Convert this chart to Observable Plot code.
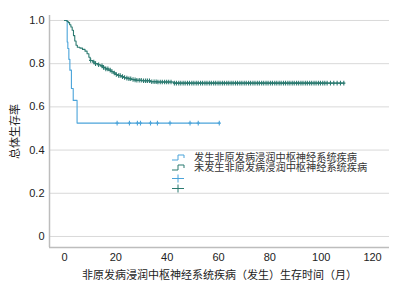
<!DOCTYPE html>
<html><head><meta charset="utf-8">
<script src="https://cdn.jsdelivr.net/npm/d3@7"></script>
<script src="https://cdn.jsdelivr.net/npm/@observablehq/plot@0.6"></script>
<style>
body{margin:0;background:#fff;}
#wrap{position:relative;width:412px;height:293px;font-family:"Liberation Sans","Noto Sans CJK SC",sans-serif;}
#legend{position:absolute;left:171px;top:152px;font-size:10.2px;line-height:10.3px;color:#333;font-family:"Noto Sans CJK SC",sans-serif;}
#legend .row{height:10.3px;display:flex;align-items:center;white-space:nowrap;}
#legend svg{flex:none;margin-right:8px;}
#legend span{line-height:10.3px;display:block;height:10.3px;}
</style></head><body><div id="wrap"><div id="chart"></div><div id="legend"></div></div>
<script>
const seriesNames = ["发生非原发病浸润中枢神经系统疾病", "未发生非原发病浸润中枢神经系统疾病"];
const seriesColors = ["#4ba4da", "#2b7a70"];
const xTicks = [0, 20, 40, 60, 80, 100, 120];
const yTicks = [0, 0.2, 0.4, 0.6, 0.8, 1.0];
const xLabel = "非原发病浸润中枢神经系统疾病（发生）生存时间（月）";
const yLabel = "总体生存率";

// Series 1 (blue): step function
const blueTimes = [0, 1.05, 1.3, 1.7, 2.1, 2.7, 3.4, 4.9, 60.3];
const blueSurv  = [1.0, 0.90, 0.87, 0.82, 0.77, 0.685, 0.63, 0.525, 0.525];
const blueCensor = [20.5, 25.3, 28.4, 29.6, 33.5, 36.2, 41.1, 48.9, 52.1, 60.3];

// Series 2 (green): step function
const greenTimes = [0, 1.0, 1.5, 2, 2.5, 3, 3.5, 4, 4.5, 5, 6, 7, 8, 8.8, 9.5, 10, 11, 12, 13, 14, 15, 16, 17, 18, 19, 20, 21, 22, 23, 24, 25, 26, 27, 28, 30, 33.5, 36, 42.5, 108.8];
const greenSurv  = [1.0, 0.995, 0.99, 0.98, 0.97, 0.955, 0.93, 0.905, 0.885, 0.876, 0.872, 0.866, 0.858, 0.846, 0.83, 0.815, 0.808, 0.80, 0.795, 0.79, 0.783, 0.776, 0.77, 0.764, 0.757, 0.75, 0.745, 0.74, 0.736, 0.733, 0.73, 0.727, 0.725, 0.723, 0.721, 0.716, 0.715, 0.71, 0.71];
const greenCensor = [10.2, 11.4, 12.1, 13.3, 14.6, 15.2, 16.1, 16.9, 17.8, 18.5, 19.4, 20.2, 21.1, 21.7, 22.6, 23.4, 24.3, 25.1, 25.8, 26.7, 27.5, 28.2, 29.1, 29.9, 30.8, 31.6, 32.3, 33.1, 34.0, 34.9, 35.7, 36.4, 37.3, 38.1, 39.0, 39.8, 40.6, 41.5, 42.8, 43.6, 44.5, 45.3, 46.2, 47.0, 47.9, 48.7, 49.6, 50.4, 51.3, 52.1, 53.0, 53.8, 54.7, 55.5, 56.4, 57.2, 58.1, 58.9, 59.8, 60.6, 61.5, 62.3, 63.2, 64.0, 64.9, 65.7, 66.6, 67.4, 68.3, 69.1, 70.0, 70.8, 71.7, 72.5, 73.4, 74.2, 75.1, 75.9, 76.8, 77.6, 78.5, 79.3, 80.2, 81.0, 81.9, 82.7, 83.6, 84.4, 85.3, 86.1, 87.0, 87.8, 88.7, 89.5, 90.4, 91.2, 92.1, 92.9, 93.8, 94.6, 95.5, 96.3, 97.2, 98.0, 98.9, 99.7, 100.6, 101.4, 102.3, 103.6, 104.9, 106.2, 107.5, 108.8];

const xDomain = [-5.84, 126.6];
const yDomain = [-0.051, 1.023];

function curve(times, surv, name) { return times.map((t, i) => ({t, s: surv[i], name})); }
function censorPts(times, surv, cens, name) {
  const bis = d3.bisector(d => d).right;
  return cens.map(c => ({t: c, s: surv[Math.max(0, bis(times, c) - 1)], name}));
}
const lines = [...curve(blueTimes, blueSurv, seriesNames[0]), ...curve(greenTimes, greenSurv, seriesNames[1])];
const cens = [...censorPts(blueTimes, blueSurv, blueCensor, seriesNames[0]), ...censorPts(greenTimes, greenSurv, greenCensor, seriesNames[1])];

const vtick = {draw(ctx, size) { const r = 2.3; ctx.moveTo(0, -r); ctx.lineTo(0, r); ctx.moveTo(-1.6, 0); ctx.lineTo(1.6, 0); }};

const chart = Plot.plot({
  width: 412, height: 293,
  marginLeft: 49, marginRight: 23, marginTop: 15, marginBottom: 46,
  style: {fontFamily: '"Liberation Sans","Noto Sans CJK SC",sans-serif', fontSize: "11px", color: "#222", background: "#fff"},
  x: {domain: xDomain},
  y: {domain: yDomain},
  color: {domain: seriesNames, range: seriesColors},
  marks: [
    Plot.gridY(yTicks, {stroke: "#d9d9d9", strokeOpacity: 1, strokeWidth: 1}),
    Plot.ruleX([xDomain[0]], {stroke: "#bdbdbd", strokeWidth: 1.5}),
    Plot.ruleY([yDomain[0]], {stroke: "#bdbdbd", strokeWidth: 1.5}),
    Plot.axisX(xTicks, {tickSize: 0, tickPadding: 6, tickFormat: d => String(d), label: xLabel, labelAnchor: "center", labelOffset: 31, labelArrow: "none", fontSize: 11}),
    Plot.axisY(yTicks, {tickSize: 0, tickPadding: 5, tickFormat: d => d === 0 ? "0" : d.toFixed(1), label: yLabel, labelAnchor: "center", labelOffset: 38, labelArrow: "none", fontSize: 11}),
    Plot.line(lines, {x: "t", y: "s", z: "name", stroke: "name", curve: "step-after", strokeWidth: 1.1}),
    Plot.dot(cens, {x: "t", y: "s", stroke: "name", symbol: vtick, r: 2, strokeWidth: 1.1})
  ]
});
document.getElementById("chart").appendChild(chart);

const leg = document.getElementById("legend");
const rows = [
  {color: seriesColors[0], kind: "step", text: seriesNames[0]},
  {color: seriesColors[1], kind: "step", text: seriesNames[1]},
  {color: seriesColors[0], kind: "plus", text: ""},
  {color: seriesColors[1], kind: "plus", text: ""}
];
for (const r of rows) {
  const row = document.createElement("div"); row.className = "row";
  const path = r.kind === "step" ? "M1,8 H7 V3 H13 V6" : "M7,1.5 V9.5 M1,5.5 H13";
  row.innerHTML = `<svg width="15" height="10"><path d="${path}" fill="none" stroke="${r.color}" stroke-width="1"/></svg>` + (r.text ? `<span>${r.text}</span>` : "");
  leg.appendChild(row);
}
</script></body></html>
